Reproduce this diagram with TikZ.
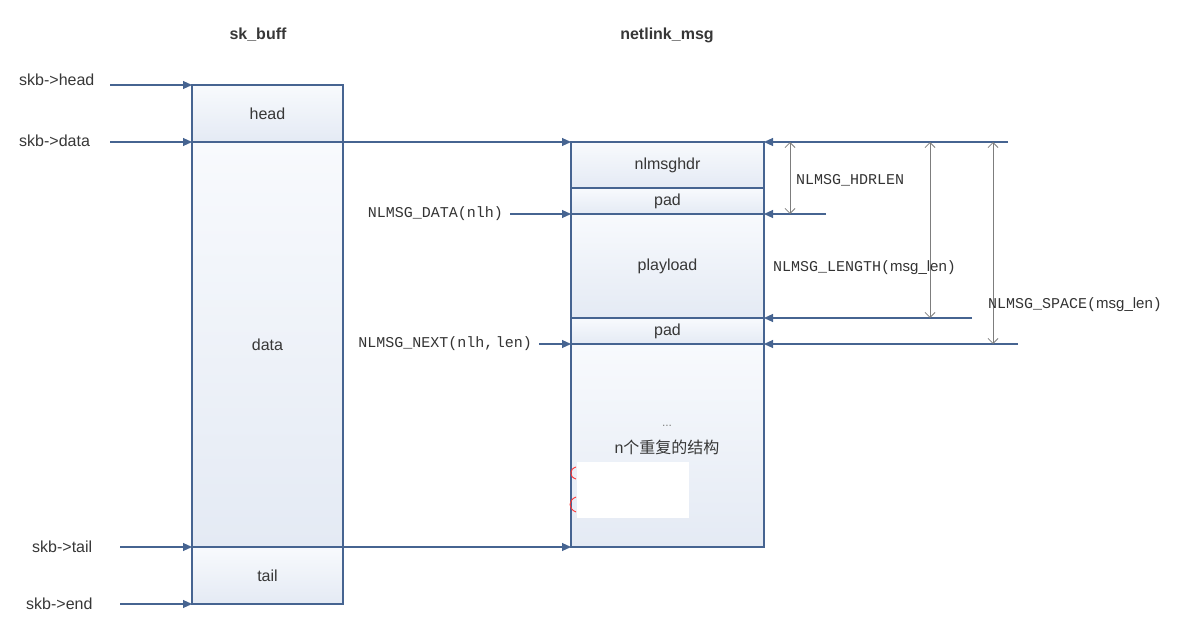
\documentclass[tikz,border=0pt]{standalone}
\usepackage{fontspec}
\setmainfont{Liberation Sans}
\setsansfont{Liberation Sans}
\setmonofont{Liberation Mono}
\newfontfamily\cjk{Noto Sans CJK SC}
\usetikzlibrary{arrows.meta}
\definecolor{lineblue}{RGB}{70,100,145}
\definecolor{dimgray}{RGB}{125,125,125}
\definecolor{txtgray}{RGB}{55,55,55}
\definecolor{boxtop}{RGB}{248,250,253}
\definecolor{boxbot}{RGB}{228,234,244}
\tikzset{
  sect/.style={draw=lineblue, line width=1.1pt, top color=boxtop, bottom color=boxbot,
    text=txtgray, font=\fontsize{16}{19}\selectfont, inner sep=0pt, outer sep=0pt,
    anchor=north west},
  ptr/.style={draw=lineblue, line width=1.1pt, -{Triangle[length=9pt,width=8pt]}},
  dimline/.style={draw=dimgray, line width=0.8pt,
    {Straight Barb[length=5pt,width=10pt]}-{Straight Barb[length=5pt,width=10pt]}},
  lbl/.style={text=txtgray, font=\fontsize{16}{19}\selectfont, inner sep=1pt},
  mlbl/.style={text=black!80, font=\ttfamily\fontsize{15}{18}\selectfont, inner sep=1pt},
  ttl/.style={text=txtgray, font=\bfseries\fontsize{16}{19}\selectfont}
}
\begin{document}
\begin{tikzpicture}[x=1pt,y=-1pt]
  \useasboundingbox (0,0) rectangle (1178,631);

  % titles
  \node[ttl] (tskb) at (258,35) {sk\_buff};
  \node[ttl] (tnl) at (667,35) {netlink\_msg};

  % sk_buff
  \node[sect, minimum width=151pt, minimum height=57pt] (head) at (192,85) {head};
  \node[sect, minimum width=151pt, minimum height=405pt] (data) at (192,142) {data};
  \node[sect, minimum width=151pt, minimum height=57pt] (tail) at (192,547) {tail};

  % netlink_msg
  \node[sect, minimum width=193pt, minimum height=46pt] (hdr) at (571,142) {nlmsghdr};
  \node[sect, minimum width=193pt, minimum height=26pt] (pada) at (571,188) {pad};
  \node[sect, minimum width=193pt, minimum height=104pt] (pay) at (571,214) {playload};
  \node[sect, minimum width=193pt, minimum height=26pt] (padb) at (571,318) {pad};
  \node[sect, minimum width=193pt, minimum height=203pt] (rest) at (571,344) {};
  \node[lbl] (dots) at (667,426) {\fontsize{12}{12}\selectfont\textcolor{gray}{...}};
  \node[lbl] (rep) at (667,447) {n{\cjk 个重复的结构}};
  \fill[white] (577,462) rectangle (689,518);
  \draw[red!80, line width=0.9pt] (576,467) .. controls (569,469) and (569,477) .. (576,479);
  \draw[red!80, line width=0.9pt] (576,497) .. controls (568,500) and (568,509) .. (576,512);

  % skb pointers
  \node[lbl, anchor=west] (lhead) at (18,80) {skb->head};
  \node[lbl, anchor=west] (ldata) at (18,141) {skb->data};
  \node[lbl, anchor=west] (ltail) at (31,547) {skb->tail};
  \node[lbl, anchor=west] (lend) at (25,604) {skb->end};
  \coordinate (shead) at (110,85);
  \coordinate (sdata) at (110,142);
  \coordinate (stail) at (120,547);
  \coordinate (send) at (120,604);
  \draw[ptr] (shead) -- (head.north west);
  \draw[ptr] (sdata) -- (data.north west);
  \draw[ptr] (data.north west) -- (hdr.north west);
  \draw[ptr] (stail) -- (tail.north west);
  \draw[ptr] (tail.north west) -- (rest.south west);
  \draw[ptr] (send) -- (tail.south west);

  % macros on the left
  \node[mlbl, anchor=east] (ndata) at (504,214) {NLMSG\_DATA(nlh)};
  \node[mlbl, anchor=east] (nnext) at (533,344) {NLMSG\_NEXT(nlh,\,len)};
  \draw[ptr] (ndata.east) ++(6,0) -- (pay.north west);
  \draw[ptr] (nnext.east) ++(6,0) -- (rest.north west);

  % lengths on the right
  \coordinate (rtop) at (1008,142);
  \coordinate (rdata) at (826,214);
  \coordinate (rlen) at (972,318);
  \coordinate (rspace) at (1018,344);
  \draw[ptr] (rtop) -- (hdr.north east);
  \draw[ptr] (rdata) -- (pay.north east);
  \draw[ptr] (rlen) -- (padb.north east);
  \draw[ptr] (rspace) -- (rest.north east);

  \draw[dimline] (790,142) -- (790,214);
  \draw[dimline] (930,142) -- (930,318);
  \draw[dimline] (993,142) -- (993,344);

  \node[mlbl, anchor=west] (nhdr) at (795,180) {NLMSG\_HDRLEN};
  \node[mlbl, anchor=west] (nlen) at (772,268) {NLMSG\_LENGTH({\sffamily msg\_len})};
  \node[mlbl, anchor=west] (nspace) at (987,305) {NLMSG\_SPACE({\sffamily msg\_len})};
\end{tikzpicture}
\end{document}
